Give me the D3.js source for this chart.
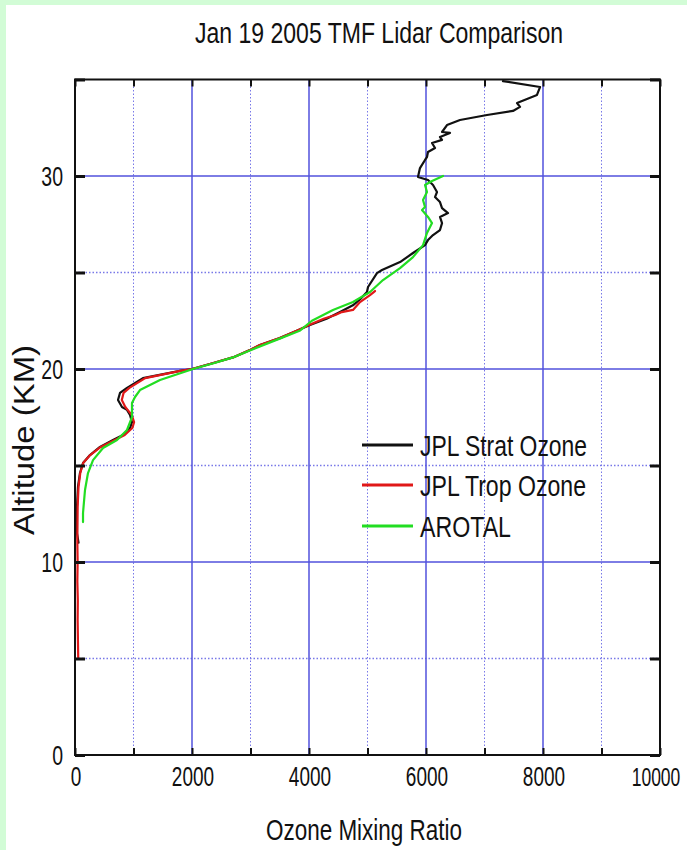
<!DOCTYPE html>
<html><head><meta charset="utf-8">
<script src="https://cdn.jsdelivr.net/npm/d3@7"></script>
<style>html,body{margin:0;padding:0;background:#fff;}svg{display:block;}</style>
</head><body>
<script>
// ---- data ----
const stratAlt = [11.0,11.5,12.85,13.89,14.61,15.13,15.54,15.96,16.32,16.58,16.94,17.25,17.62,17.88,18.03,18.39,18.76,19.02,19.53,19.9,20.0,20.3,20.6,21.0,21.24,21.6,22.0,22.28,22.6,22.95,23.3,23.6,23.99,24.25,24.97,25.13,25.54,26.01,26.42,26.68,26.94,27.2,27.56,27.88,28.08,28.34,28.65,28.91,29.17,29.53,29.79,29.95,30.41,30.83,30.98,31.24,31.45,31.71,31.87,32.02,32.23,32.28,32.64,32.9,33.16,33.37,33.58,33.78,34.2,34.61,34.92];
const stratVal = [60,34,34,51,85,137,256,427,650,821,940,974,940,889,803,735,769,889,1162,1795,2000,2350,2700,3000,3160,3500,3800,4017,4300,4530,4750,4870,4991,5009,5162,5248,5556,5778,5983,6034,6120,6239,6274,6239,6376,6274,6239,6154,6188,6120,6034,5863,5897,5983,6017,6034,6154,6103,6274,6239,6410,6274,6359,6581,7043,7487,7607,7556,7897,7949,7316];
const tropAlt = [5.05,6,7,8,9,10,11,11.5,12.85,13.89,14.61,15.13,15.54,15.96,16.32,16.58,16.94,17.25,17.62,17.88,18.03,18.39,18.76,19.02,19.53,19.9,20.0,20.3,20.6,21.0,21.24,21.6,22.0,22.28,22.6,22.8,22.95,23.06,23.47,23.83,24.04];
const tropVal = [55,50,45,48,40,45,40,40,45,60,90,140,260,440,680,850,980,1010,970,900,860,800,830,930,1200,1800,2000,2350,2700,3000,3160,3500,3800,4000,4250,4450,4560,4752,4872,5043,5128];
const arotalAlt = [12.07,12.54,13.73,14.61,15.28,15.91,16.32,16.84,17.51,18.24,18.55,18.91,19.43,20.0,20.3,20.6,21.0,21.6,22.0,22.5,23.06,23.47,23.99,24.61,25.23,25.8,26.42,27.05,27.56,27.88,28.24,28.39,28.76,29.17,29.53,29.74,30.0];
const arotalVal = [137,137,171,222,308,479,718,889,974,974,1026,1111,1453,2017,2370,2700,3020,3520,3850,4050,4410,4752,5043,5265,5556,5778,5949,6017,6103,6034,5932,5983,5949,6017,5983,6103,6291];
const xTicks = [0,2000,4000,6000,8000,10000];
const xMinor = [0,1000,2000,3000,4000,5000,6000,7000,8000,9000,10000];
const yTicks = [0,10,20,30];
const yMinor = [0,5,10,15,20,25,30,35];
const seriesNames = ["JPL Strat Ozone","JPL Trop Ozone","AROTAL"];
const seriesColors = ["#111111","#e01818","#22dd22"];
const title = "Jan 19 2005 TMF Lidar Comparison";
const xTitle = "Ozone Mixing Ratio";
const yTitle = "Altitude (KM)";

// ---- layout ----
const W = 687, H = 850;
const L = 75, R = 660, T = 79.5, B = 755;
const FONT = "'Liberation Sans', Arial, Helvetica, sans-serif";

const svg = d3.select("body").append("svg").attr("width", W).attr("height", H);
svg.append("rect").attr("width", W).attr("height", H).attr("fill", "#d2fcd6");
svg.append("rect").attr("x", 6).attr("y", 5).attr("width", W-6).attr("height", H-5).attr("fill", "#ffffff");

const x = d3.scaleLinear().domain([0, 10000]).range([L, R]);
const y = d3.scaleLinear().domain([0, 35]).range([B, T]);

// grid
const g = svg.append("g");
const xMaj = [2000,4000,6000,8000], xMin = [1000,3000,5000,7000,9000];
const yMaj = [10,20,30], yMin = [5,15,25];
g.selectAll(".gxmin").data(xMin).join("line").attr("x1", d=>x(d)).attr("x2", d=>x(d)).attr("y1", T).attr("y2", B)
  .attr("stroke", "#7878e8").attr("stroke-width", 1).attr("stroke-dasharray", "1.5,2");
g.selectAll(".gymin").data(yMin).join("line").attr("y1", d=>y(d)).attr("y2", d=>y(d)).attr("x1", L).attr("x2", R)
  .attr("stroke", "#7878e8").attr("stroke-width", 1.3).attr("stroke-dasharray", "1.5,2");
g.selectAll(".gxmaj").data(xMaj).join("line").attr("x1", d=>x(d)).attr("x2", d=>x(d)).attr("y1", T).attr("y2", B)
  .attr("stroke", "#5252dc").attr("stroke-width", 1.5);
g.selectAll(".gymaj").data(yMaj).join("line").attr("y1", d=>y(d)).attr("y2", d=>y(d)).attr("x1", L).attr("x2", R)
  .attr("stroke", "#5252dc").attr("stroke-width", 1.7);

// series
svg.append("clipPath").attr("id", "clip").append("rect").attr("x", L).attr("y", T).attr("width", R-L).attr("height", B-T);
const line = d3.line().x(d=>x(d[1])).y(d=>y(d[0]));
const series = [
  {alt: stratAlt, val: stratVal, c: seriesColors[0]},
  {alt: tropAlt, val: tropVal, c: seriesColors[1]},
  {alt: arotalAlt, val: arotalVal, c: seriesColors[2]}
];
const lg = svg.append("g").attr("clip-path", "url(#clip)");
series.forEach(s => {
  lg.append("path").datum(s.alt.map((a,i)=>[a, s.val[i]]))
    .attr("d", line).attr("fill", "none").attr("stroke", s.c).attr("stroke-width", 2.2)
    .attr("stroke-linejoin", "round").attr("stroke-linecap", "round");
});

// axes ticks (inward)
const axB = svg.append("g").attr("transform", `translate(0,${B})`)
  .call(d3.axisBottom(x).tickValues(xMinor).tickSize(-7).tickSizeOuter(0).tickFormat(""));
const axT = svg.append("g").attr("transform", `translate(0,${T})`)
  .call(d3.axisTop(x).tickValues(xMinor).tickSize(-7).tickSizeOuter(0).tickFormat(""));
const axL = svg.append("g").attr("transform", `translate(${L},0)`)
  .call(d3.axisLeft(y).tickValues(yMinor).tickSize(-10).tickSizeOuter(0).tickFormat(""));
const axR = svg.append("g").attr("transform", `translate(${R},0)`)
  .call(d3.axisRight(y).tickValues(yMinor).tickSize(-10).tickSizeOuter(0).tickFormat(""));
[axB, axT].forEach(a => { a.select(".domain").remove(); a.selectAll(".tick line").attr("stroke", "#111").attr("stroke-width", 2); });
[axL, axR].forEach(a => { a.select(".domain").remove(); a.selectAll(".tick line").attr("stroke", "#111").attr("stroke-width", 3); });

// frame
svg.append("rect").attr("x", L).attr("y", T).attr("width", R-L).attr("height", B-T)
  .attr("fill", "none").attr("stroke", "#111").attr("stroke-width", 2);

// tick labels (vertically stretched like the reference)
svg.selectAll(".xl").data(xTicks).join("text")
  .attr("transform", d=>`translate(${Math.min(x(d)+1, 656)},786) scale(1,1.5)`).attr("text-anchor", "middle")
  .attr("font-family", FONT).attr("font-size", d=>d===10000?17.5:19).attr("fill", "#111")
  .text(d=>d);
svg.selectAll(".yl").data(yTicks).join("text")
  .attr("transform", d=>`translate(63,${y(d)+10}) scale(1,1.45)`).attr("text-anchor", "end")
  .attr("font-family", FONT).attr("font-size", 19.5).attr("fill", "#111")
  .text(d=>d);

// titles
svg.append("text").attr("x", 379).attr("y", 43).attr("text-anchor", "middle")
  .attr("font-family", FONT).attr("font-size", 30).attr("fill", "#111")
  .attr("textLength", 368).attr("lengthAdjust", "spacingAndGlyphs").text(title);
svg.append("text").attr("x", 364).attr("y", 840).attr("text-anchor", "middle")
  .attr("font-family", FONT).attr("font-size", 30).attr("fill", "#111")
  .attr("textLength", 196).attr("lengthAdjust", "spacingAndGlyphs").text(xTitle);
svg.append("text").attr("transform", "translate(34,440) rotate(-90)").attr("text-anchor", "middle")
  .attr("font-family", FONT).attr("font-size", 29).attr("fill", "#111")
  .attr("textLength", 190).attr("lengthAdjust", "spacingAndGlyphs").text(yTitle);

// legend
const legY = [445, 485, 526];
const legLen = [167, 166, 91];
const leg = svg.append("g");
seriesNames.forEach((n, i) => {
  leg.append("line").attr("x1", 362).attr("x2", 413).attr("y1", legY[i]).attr("y2", legY[i])
    .attr("stroke", seriesColors[i]).attr("stroke-width", 3);
  leg.append("text").attr("x", 420).attr("y", legY[i]+11).attr("font-family", FONT).attr("font-size", 30)
    .attr("fill", "#111").attr("textLength", legLen[i]).attr("lengthAdjust", "spacingAndGlyphs").text(n);
});
</script>
</body></html>
